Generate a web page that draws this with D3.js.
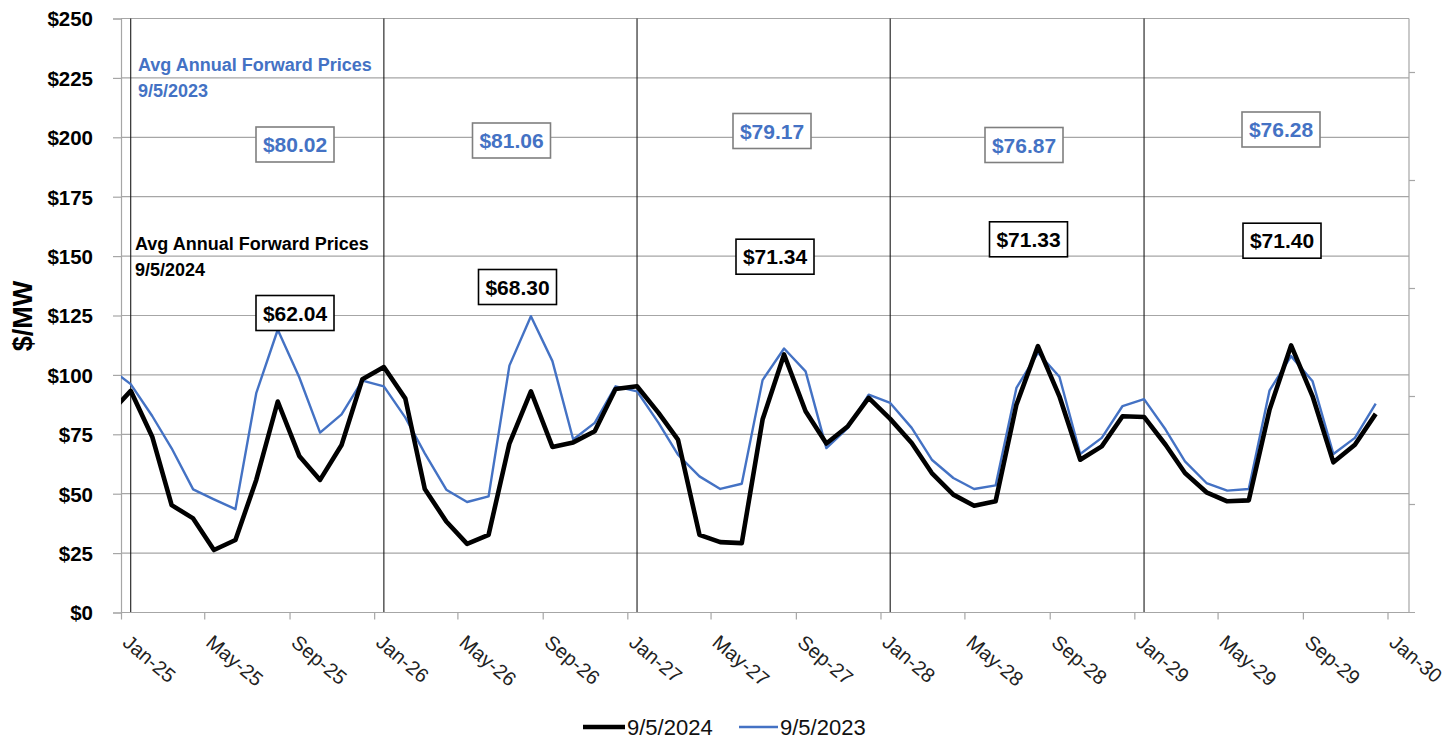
<!DOCTYPE html>
<html>
<head>
<meta charset="utf-8">
<script src="https://cdn.jsdelivr.net/npm/d3@7"></script>
<style>
  html, body { margin: 0; padding: 0; background: #fff; }
  svg { display: block; font-family: "Liberation Sans", Arial, sans-serif; }
</style>
</head>
<body>
<svg id="chart" width="1454" height="739"></svg>
<script>
// ---------- data ----------
const months = [
  "2024-12","2025-01","2025-02","2025-03","2025-04","2025-05","2025-06","2025-07","2025-08","2025-09","2025-10","2025-11","2025-12",
  "2026-01","2026-02","2026-03","2026-04","2026-05","2026-06","2026-07","2026-08","2026-09","2026-10","2026-11","2026-12",
  "2027-01","2027-02","2027-03","2027-04","2027-05","2027-06","2027-07","2027-08","2027-09","2027-10","2027-11","2027-12",
  "2028-01","2028-02","2028-03","2028-04","2028-05","2028-06","2028-07","2028-08","2028-09","2028-10","2028-11","2028-12",
  "2029-01","2029-02","2029-03","2029-04","2029-05","2029-06","2029-07","2029-08","2029-09","2029-10","2029-11","2029-12"
];
const prices2024 = [
  83.5,
  93.3, 74.0, 45.2, 39.6, 26.3, 30.5, 55.8, 88.8, 65.9, 55.8, 70.5, 98.2,
  103.3, 90.0, 52.0, 38.3, 28.9, 32.7, 71.1, 93.1, 69.7, 71.6, 76.3, 94.1,
  95.2, 84.0, 72.8, 32.7, 29.6, 29.2, 81.2, 108.6, 84.7, 71.1, 78.4, 90.3,
  81.5, 71.3, 58.7, 49.6, 44.9, 46.8, 87.5, 112.1, 91.0, 64.3, 69.9, 82.6,
  82.3, 70.6, 58.7, 50.6, 46.8, 47.2, 85.4, 112.4, 91.0, 63.2, 70.6, 83.6
];
const prices2023 = [
  103.0,
  96.1, 82.7, 69.1, 51.8, 47.6, 43.5, 92.3, 119.0, 99.0, 75.7, 83.4, 97.6,
  95.2, 82.0, 67.0, 51.7, 46.5, 48.9, 103.9, 124.7, 105.8, 72.8, 79.8, 95.2,
  93.1, 79.8, 66.4, 57.3, 52.0, 54.2, 97.8, 111.1, 101.5, 69.2, 77.7, 91.7,
  88.2, 77.7, 64.3, 56.6, 52.0, 53.5, 94.5, 109.3, 99.2, 66.7, 73.5, 86.9,
  89.8, 77.0, 63.6, 54.5, 51.3, 52.0, 93.5, 107.9, 97.3, 66.7, 73.5, 87.9
];
const years = [2025, 2026, 2027, 2028, 2029];
const avg2024 = ["$62.04", "$68.30", "$71.34", "$71.33", "$71.40"];
const avg2023 = ["$80.02", "$81.06", "$79.17", "$76.87", "$76.28"];
const yTicks = [0, 25, 50, 75, 100, 125, 150, 175, 200, 225, 250];
const seriesNames = ["9/5/2024", "9/5/2023"];

// ---------- layout ----------
const W = 1454, H = 739;
const plot = { left: 121, right: 1409, top: 18.5, bottom: 612.5 };
const blue = "#4472C4";
const gridColor = "#a6a6a6";
// box centres (pixels) for the annual-average labels
const pos2023 = [[295, 144.5], [511.5, 140.5], [772, 131], [1024, 145], [1281, 129.5]];
const pos2024 = [[295, 313], [517.5, 287], [775, 256.7], [1028.5, 239.3], [1282, 240.7]];

const svg = d3.select("#chart");
const parse = d3.timeParse("%Y-%m-%d");
const dates = months.map(m => parse(m + "-15"));

const x = d3.scaleTime()
  .domain([new Date(2025, 0, 1), new Date(2030, 1, 1)])
  .range([plot.left, plot.right]);
const y = d3.scaleLinear().domain([0, 250]).range([plot.bottom, plot.top]);
const y2 = d3.scaleLinear().domain([0, 5.5]).range([plot.bottom, plot.top]);

// gridlines
svg.append("g").selectAll("line").data(yTicks.filter(d => d > 0)).join("line")
  .attr("x1", plot.left).attr("x2", plot.right)
  .attr("y1", d => y(d)).attr("y2", d => y(d))
  .attr("stroke", gridColor).attr("stroke-width", 1.2);

// right border / secondary axis
svg.append("line").attr("x1", plot.right).attr("x2", plot.right)
  .attr("y1", plot.top).attr("y2", plot.bottom)
  .attr("stroke", gridColor).attr("stroke-width", 1.2);
svg.append("g").selectAll("line").data([1, 2, 3, 4, 5]).join("line")
  .attr("x1", plot.right).attr("x2", plot.right + 6)
  .attr("y1", d => y2(d)).attr("y2", d => y2(d))
  .attr("stroke", gridColor).attr("stroke-width", 1.2);

// year separators
svg.append("g").selectAll("line").data(years).join("line")
  .attr("x1", d => x(new Date(d, 0, 15))).attr("x2", d => x(new Date(d, 0, 15)))
  .attr("y1", plot.top).attr("y2", plot.bottom)
  .attr("stroke", "#1a1a1a").attr("stroke-width", 1.1);

// y axis
const yAxis = d3.axisLeft(y).tickValues(yTicks).tickSize(8).tickFormat(d => "$" + d);
const gy = svg.append("g").attr("transform", `translate(${plot.left},0)`).call(yAxis);
gy.select(".domain").attr("stroke", gridColor).attr("stroke-width", 1.2);
gy.selectAll(".tick line").attr("stroke", gridColor).attr("stroke-width", 1.2);
gy.selectAll(".tick text").attr("x", -28).attr("dy", "0.36em")
  .style("font-size", "20.5px").style("font-weight", "bold").attr("fill", "#000")
  .style("font-family", "'Liberation Sans', Arial, sans-serif");

// x axis
const xTicks = d3.timeMonth.every(4).range(new Date(2025, 0, 1), new Date(2030, 0, 2));
const xAxis = d3.axisBottom(x).tickValues(xTicks).tickSize(7).tickFormat(d3.timeFormat("%b-%y"));
const gx = svg.append("g").attr("transform", `translate(0,${plot.bottom})`).call(xAxis);
gx.select(".domain").attr("stroke", gridColor).attr("stroke-width", 1.2)
  .attr("d", `M${plot.left},0H${plot.right + 6}`);
gx.selectAll(".tick line").attr("stroke", gridColor).attr("stroke-width", 1.2);
gx.selectAll(".tick text")
  .attr("y", 0).attr("dy", 0)
  .attr("text-anchor", "start")
  .attr("transform", "translate(0,32) rotate(40)")
  .style("font-size", "20px").attr("fill", "#222")
  .style("font-family", "'Liberation Sans', Arial, sans-serif");

// lines
svg.append("clipPath").attr("id", "clip").append("rect")
  .attr("x", plot.left).attr("y", plot.top)
  .attr("width", plot.right - plot.left).attr("height", plot.bottom - plot.top);
const line = d3.line().x((d, i) => x(dates[i])).y(d => y(d));
svg.append("path").datum(prices2023).attr("clip-path", "url(#clip)")
  .attr("d", line).attr("fill", "none").attr("stroke", blue)
  .attr("stroke-width", 2.4).attr("stroke-linejoin", "round");
svg.append("path").datum(prices2024).attr("clip-path", "url(#clip)")
  .attr("d", line).attr("fill", "none").attr("stroke", "#000")
  .attr("stroke-width", 4.6).attr("stroke-linejoin", "round");

// annotation titles
const t1 = svg.append("text").attr("x", 138).attr("y", 71).attr("fill", blue)
  .style("font-size", "18px").style("font-weight", "bold");
t1.append("tspan").attr("x", 138).text("Avg Annual Forward Prices");
t1.append("tspan").attr("x", 138).attr("dy", 25.5).text(seriesNames[1]);
const t2 = svg.append("text").attr("x", 135).attr("y", 250).attr("fill", "#000")
  .style("font-size", "18px").style("font-weight", "bold");
t2.append("tspan").attr("x", 135).text("Avg Annual Forward Prices");
t2.append("tspan").attr("x", 135).attr("dy", 25.5).text(seriesNames[0]);

// annual average boxes
function boxes(labels, positions, textColor, borderColor) {
  const g = svg.append("g").selectAll("g").data(labels).join("g")
    .attr("transform", (d, i) => `translate(${positions[i][0]},${positions[i][1]})`);
  g.append("rect").attr("x", -39).attr("y", -17.5).attr("width", 78).attr("height", 35)
    .attr("fill", "#fff").attr("stroke", borderColor).attr("stroke-width", 1.6);
  g.append("text").attr("text-anchor", "middle").attr("dy", "0.36em")
    .attr("fill", textColor).style("font-size", "21px").style("font-weight", "bold")
    .text(d => d);
}
boxes(avg2023, pos2023, blue, "#7f7f7f");
boxes(avg2024, pos2024, "#000", "#000");

// y axis title
svg.append("text").attr("transform", "translate(32,316) rotate(-90)")
  .attr("text-anchor", "middle").style("font-size", "27px").style("font-weight", "bold")
  .text("$/MW");

// legend
const legend = svg.append("g");
const legItems = [
  { name: seriesNames[0], color: "#000", width: 4.6, x1: 583, x2: 625, tx: 627 },
  { name: seriesNames[1], color: blue, width: 2.4, x1: 739, x2: 778, tx: 780 }
];
legItems.forEach(it => {
  legend.append("line").attr("x1", it.x1).attr("x2", it.x2).attr("y1", 727).attr("y2", 727)
    .attr("stroke", it.color).attr("stroke-width", it.width);
  legend.append("text").attr("x", it.tx).attr("y", 735).style("font-size", "22px")
    .attr("fill", "#111").text(it.name);
});
</script>
</body>
</html>
